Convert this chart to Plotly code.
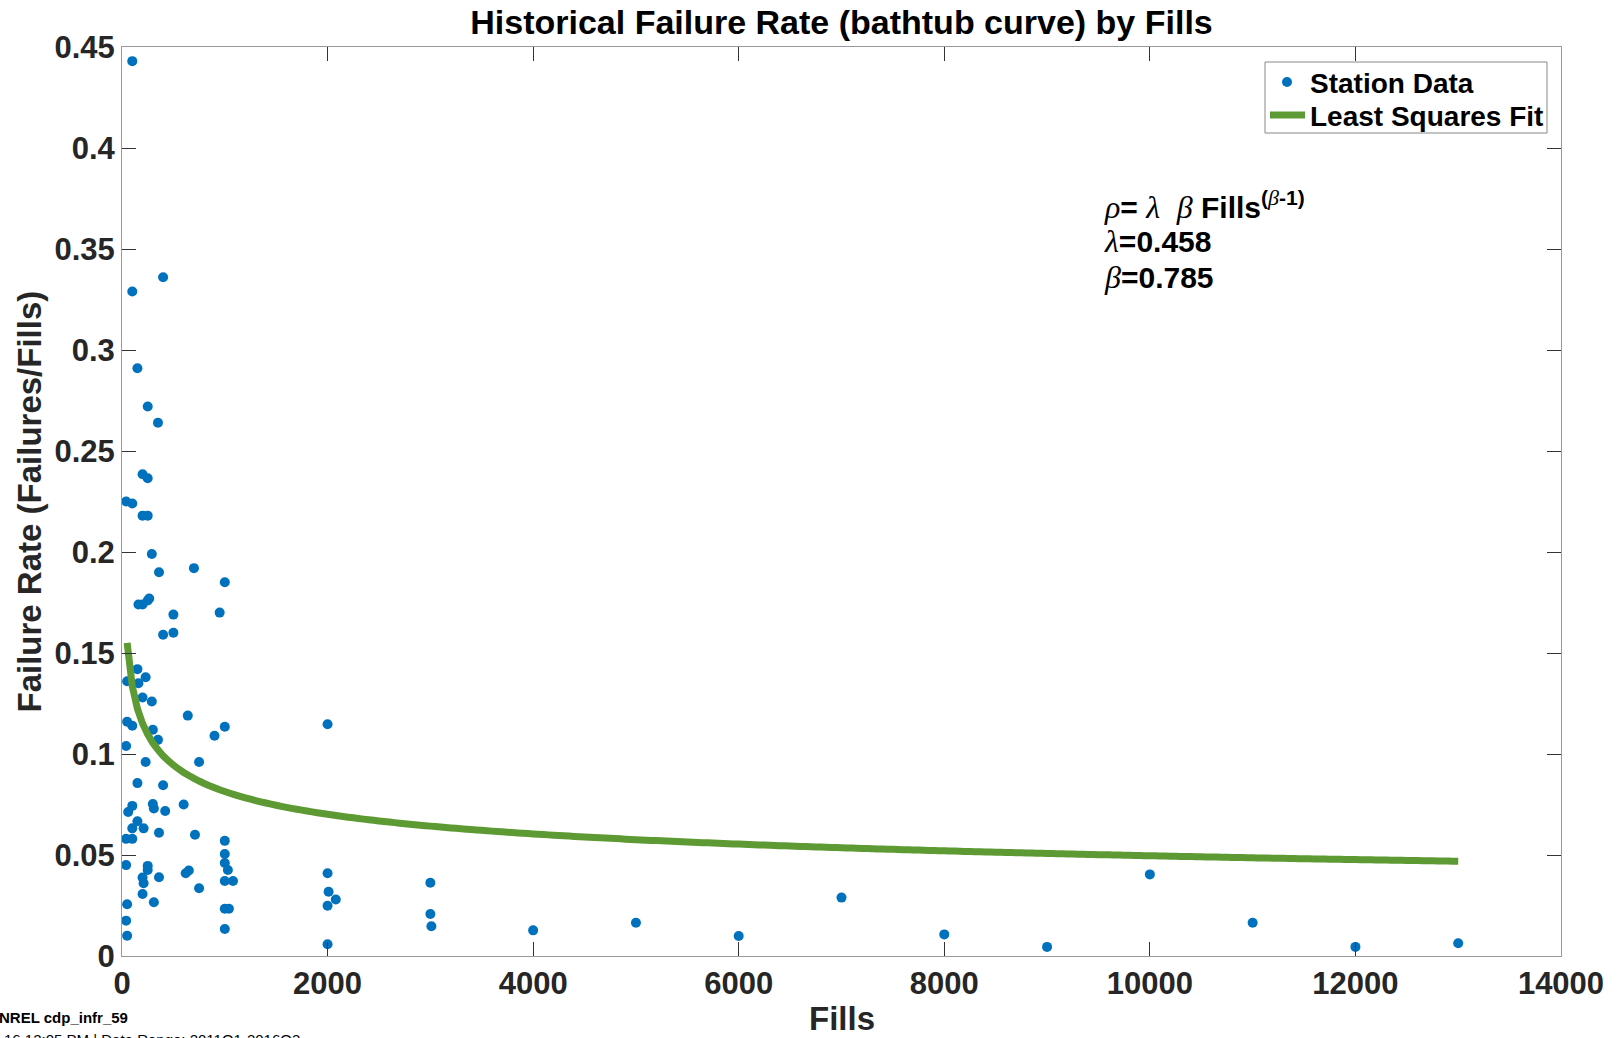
import numpy as np
import plotly.graph_objects as go

# Station observations: fills vs. historical failure rate
STATION_FILLS = [
    100, 400, 100, 150, 250, 350, 200, 250, 40, 100,
    200, 250, 290, 360, 700, 1000, 160, 200, 250, 265,
    500, 950, 400, 500, 150, 50, 160, 230, 200, 290,
    640, 50, 100, 300, 350, 1000, 900, 2000, 40, 230,
    750, 150, 400, 600, 300, 310, 420, 100, 60, 150,
    100, 210, 360, 710, 40, 100, 1000, 1000, 1000, 1030,
    1000, 1080, 40, 250, 250, 200, 210, 360, 620, 650,
    750, 200, 310, 50, 1000, 1040, 40, 50, 1000, 2000,
    2010, 2080, 2000, 2000, 3000, 3000, 3010, 4000, 5000, 6000,
    7000, 8000, 9000, 10000, 11000, 12000, 13000,
]
STATION_RATE = [
    0.443, 0.336, 0.329, 0.291, 0.272, 0.264, 0.2385, 0.2365, 0.225, 0.224,
    0.218, 0.218, 0.199, 0.190, 0.192, 0.185, 0.174, 0.174, 0.176, 0.177,
    0.169, 0.170, 0.159, 0.160, 0.142, 0.136, 0.135, 0.138, 0.128, 0.126,
    0.119, 0.116, 0.114, 0.112, 0.107, 0.1135, 0.109, 0.1147, 0.104, 0.096,
    0.096, 0.0856, 0.0845, 0.075, 0.0752, 0.073, 0.0718, 0.0743, 0.0713, 0.0667,
    0.0632, 0.0632, 0.061, 0.060, 0.058, 0.058, 0.057, 0.0505, 0.046, 0.0426,
    0.0371, 0.0371, 0.045, 0.0446, 0.0426, 0.0388, 0.036, 0.039, 0.041, 0.0423,
    0.0335, 0.0307, 0.0266, 0.0256, 0.0234, 0.0234, 0.0175, 0.010, 0.0134, 0.041,
    0.0318, 0.028, 0.0249, 0.0058, 0.0363, 0.0208, 0.0147, 0.0127, 0.0165, 0.0099,
    0.0289, 0.0107, 0.0045, 0.0404, 0.0165, 0.0045, 0.0063,
]

# Power-law (Crow-AMSAA) fit parameters
LAMBDA = 0.458
BETA = 0.785
FIT_START, FIT_END, FIT_STEP = 50, 13000, 50

X_TICKS = [0, 2000, 4000, 6000, 8000, 10000, 12000, 14000]
X_TICK_TEXT = ["0", "2000", "4000", "6000", "8000", "10000", "12000", "14000"]
Y_TICKS = [0, 0.05, 0.1, 0.15, 0.2, 0.25, 0.3, 0.35, 0.4, 0.45]
Y_TICK_TEXT = ["0", "0.05", "0.1", "0.15", "0.2", "0.25", "0.3", "0.35", "0.4", "0.45"]

FONT = "Arial, 'Liberation Sans', sans-serif"
BLUE = "#0072BD"
GREEN = "#5E9A33"

fit_x = np.arange(FIT_START, FIT_END + 1, FIT_STEP, dtype=float)
fit_y = LAMBDA * BETA * fit_x ** (BETA - 1)

fig = go.Figure()
fig.add_trace(go.Scatter(
    x=STATION_FILLS, y=STATION_RATE, mode="markers", name="Station Data",
    marker=dict(color=BLUE, size=10, line=dict(width=0)), showlegend=False,
))
fig.add_trace(go.Scatter(
    x=fit_x, y=fit_y, mode="lines", name="Least Squares Fit",
    line=dict(color=GREEN, width=7, simplify=False), showlegend=False,
))

# plot-area geometry in pixels
W, H = 1617, 1038
L, R, T, B = 122, 56, 47, 82
PW, PH = W - L - R, H - T - B


def px(xp):
    return (xp - L) / PW


def py(yp):
    return (H - B - yp) / PH


axis_common = dict(
    showline=True, linecolor="#999999", linewidth=1, mirror="ticks",
    ticks="inside", ticklen=14, tickwidth=1, tickcolor="#333333",
    showgrid=False, zeroline=False,
    tickfont=dict(family=FONT, size=31, color="#262626", weight="bold"),
)

fig.update_layout(
    width=W, height=H,
    margin=dict(l=L, r=R, t=T, b=B, pad=0),
    paper_bgcolor="white", plot_bgcolor="white",
    showlegend=False,
    title=dict(
        text="Historical Failure Rate (bathtub curve) by Fills",
        font=dict(family=FONT, size=34, color="#000000", weight="bold"),
        x=px((L + W - R) / 2), xref="paper", xanchor="center",
        y=1 - 22 / H, yref="container", yanchor="middle",
    ),
    xaxis=dict(range=[0, 14000], tickvals=X_TICKS, ticktext=X_TICK_TEXT, **axis_common),
    yaxis=dict(range=[0, 0.45], tickvals=Y_TICKS, ticktext=Y_TICK_TEXT, **axis_common),
    hovermode=False,
)

# legend box with its two entries
LEG_X0, LEG_X1, LEG_Y0, LEG_Y1 = 1265, 1547, 62, 133
shapes = [
    dict(type="rect", xref="paper", yref="paper",
         x0=px(LEG_X0), x1=px(LEG_X1), y0=py(LEG_Y1), y1=py(LEG_Y0),
         line=dict(color="#888888", width=1), fillcolor="white", layer="above"),
    dict(type="circle", xref="paper", yref="paper",
         x0=px(1282), x1=px(1292), y0=py(87), y1=py(77),
         line=dict(width=0), fillcolor=BLUE, layer="above"),
    dict(type="line", xref="paper", yref="paper",
         x0=px(1270), x1=px(1305), y0=py(115), y1=py(115),
         line=dict(color=GREEN, width=7), layer="above"),
]
fig.update_layout(shapes=shapes)


def greek(ch, size=32):
    return ("<span style=\"font-family:'Liberation Serif', serif; font-weight:normal; "
            f"font-size:{size}px\"><i>{ch}</i></span>")


rho, lam, bet = greek("ρ"), greek("λ"), greek("β")
formula_lines = [
    (f"{rho}= {lam}  {bet} Fills<sup>({greek('β', 22)}-1)</sup>", 205),
    (f"{lam}={LAMBDA:.3f}", 241),
    (f"{bet}={BETA:.3f}", 277),
]

annotations = []
for text, yc in formula_lines:
    annotations.append(dict(
        text=text, x=px(1102), y=py(yc), xref="paper", yref="paper",
        xanchor="left", yanchor="middle", align="left", showarrow=False,
        font=dict(family=FONT, size=30, color="#000000", weight="bold")))

annotations += [
    dict(text="Station Data", x=px(1308), y=py(83), xref="paper", yref="paper",
         xanchor="left", yanchor="middle", showarrow=False,
         font=dict(family=FONT, size=28, color="#000000", weight="bold")),
    dict(text="Least Squares Fit", x=px(1308), y=py(116), xref="paper", yref="paper",
         xanchor="left", yanchor="middle", showarrow=False,
         font=dict(family=FONT, size=28, color="#000000", weight="bold")),
    dict(text="Fills", x=0.5, y=py(1018), xref="paper", yref="paper",
         xanchor="center", yanchor="middle", showarrow=False,
         font=dict(family=FONT, size=33, color="#262626", weight="bold")),
    dict(text="Failure Rate (Failures/Fills)", x=px(29), y=0.5, xref="paper", yref="paper",
         xanchor="center", yanchor="middle", textangle=-90, showarrow=False,
         font=dict(family=FONT, size=33, color="#262626", weight="bold")),
    dict(text="NREL cdp_infr_59", x=px(-3), y=py(1017), xref="paper", yref="paper",
         xanchor="left", yanchor="middle", showarrow=False,
         font=dict(family=FONT, size=15, color="#000000", weight="bold")),
    dict(text="16 12:05 PM | Data Range: 2011Q1-2016Q3", x=px(2), y=py(1039),
         xref="paper", yref="paper", xanchor="left", yanchor="middle", showarrow=False,
         font=dict(family=FONT, size=15, color="#000000")),
]
fig.update_layout(annotations=annotations)

fig.write_html("out.html", config={"displayModeBar": False})
